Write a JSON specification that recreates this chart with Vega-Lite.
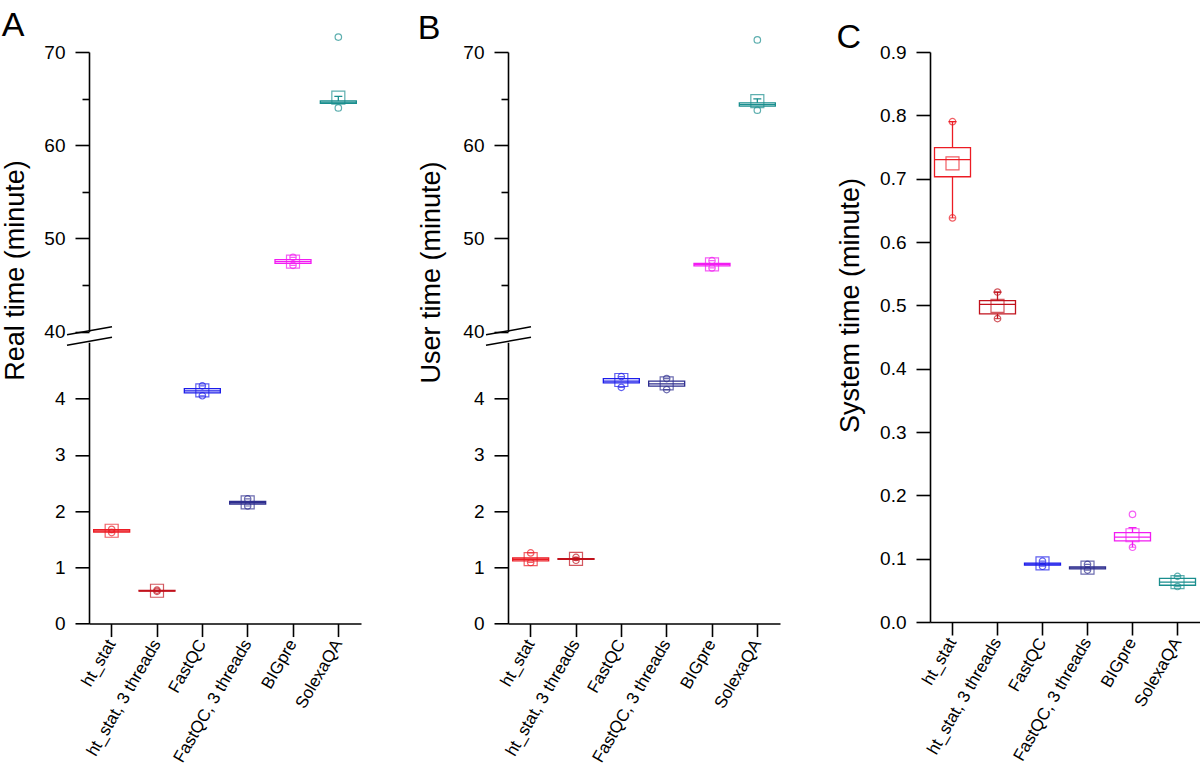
{
  "$schema": "https://vega.github.io/schema/vega-lite/v6.json",
  "padding": {"left": 1, "top": 9, "right": 0, "bottom": 0},
  "background": "white",
  "datasets": {
    "stats": [
      {"panel": "A", "tool": "ht_stat", "q1": 1.625, "med": 1.645, "q3": 1.67, "mean": 1.65, "wlo": 1.625, "whi": 1.67},
      {"panel": "A", "tool": "ht_stat, 3 threads", "q1": 0.576, "med": 0.583, "q3": 0.59, "mean": 0.583, "wlo": 0.576, "whi": 0.59},
      {"panel": "A", "tool": "FastQC", "q1": 4.1, "med": 4.135, "q3": 4.175, "mean": 4.145, "wlo": 4.1, "whi": 4.175},
      {"panel": "A", "tool": "FastQC, 3 threads", "q1": 2.125, "med": 2.15, "q3": 2.17, "mean": 2.155, "wlo": 2.125, "whi": 2.17},
      {"panel": "A", "tool": "BIGpre", "q1": 47.32, "med": 47.5, "q3": 47.72, "mean": 47.5, "wlo": 47.32, "whi": 47.72},
      {"panel": "A", "tool": "SolexaQA", "q1": 64.5, "med": 64.62, "q3": 64.75, "mean": 65.1, "wlo": 64.5, "whi": 65.23},
      {"panel": "B", "tool": "ht_stat", "q1": 1.115, "med": 1.14, "q3": 1.165, "mean": 1.147, "wlo": 1.115, "whi": 1.165},
      {"panel": "B", "tool": "ht_stat, 3 threads", "q1": 1.142, "med": 1.148, "q3": 1.155, "mean": 1.15, "wlo": 1.142, "whi": 1.155},
      {"panel": "B", "tool": "FastQC", "q1": 4.28, "med": 4.31, "q3": 4.355, "mean": 4.33, "wlo": 4.28, "whi": 4.355},
      {"panel": "B", "tool": "FastQC, 3 threads", "q1": 4.22, "med": 4.26, "q3": 4.31, "mean": 4.27, "wlo": 4.22, "whi": 4.31},
      {"panel": "B", "tool": "BIGpre", "q1": 47.05, "med": 47.2, "q3": 47.32, "mean": 47.2, "wlo": 47.05, "whi": 47.32},
      {"panel": "B", "tool": "SolexaQA", "q1": 64.2, "med": 64.35, "q3": 64.55, "mean": 64.73, "wlo": 64.2, "whi": 64.97},
      {"panel": "C", "tool": "ht_stat", "q1": 0.703, "med": 0.73, "q3": 0.749, "mean": 0.724, "wlo": 0.638, "whi": 0.79},
      {"panel": "C", "tool": "ht_stat, 3 threads", "q1": 0.4866, "med": 0.5016, "q3": 0.5074, "mean": 0.499, "wlo": 0.479, "whi": 0.521},
      {"panel": "C", "tool": "FastQC", "q1": 0.0898, "med": 0.0915, "q3": 0.093, "mean": 0.0926, "wlo": 0.0898, "whi": 0.093},
      {"panel": "C", "tool": "FastQC, 3 threads", "q1": 0.084, "med": 0.0855, "q3": 0.087, "mean": 0.086, "wlo": 0.084, "whi": 0.087},
      {"panel": "C", "tool": "BIGpre", "q1": 0.128, "med": 0.134, "q3": 0.141, "mean": 0.137, "wlo": 0.118, "whi": 0.149},
      {"panel": "C", "tool": "SolexaQA", "q1": 0.058, "med": 0.063, "q3": 0.069, "mean": 0.063, "wlo": 0.058, "whi": 0.069}
    ],
    "points": [
      {"panel": "A", "tool": "ht_stat", "value": 1.617, "kind": "x"},
      {"panel": "A", "tool": "ht_stat", "value": 1.675, "kind": "x"},
      {"panel": "A", "tool": "ht_stat, 3 threads", "value": 0.572, "kind": "x"},
      {"panel": "A", "tool": "ht_stat, 3 threads", "value": 0.594, "kind": "x"},
      {"panel": "A", "tool": "FastQC", "value": 4.05, "kind": "x"},
      {"panel": "A", "tool": "FastQC", "value": 4.225, "kind": "x"},
      {"panel": "A", "tool": "FastQC, 3 threads", "value": 2.09, "kind": "x"},
      {"panel": "A", "tool": "FastQC, 3 threads", "value": 2.215, "kind": "x"},
      {"panel": "A", "tool": "BIGpre", "value": 47.1, "kind": "x"},
      {"panel": "A", "tool": "BIGpre", "value": 47.96, "kind": "x"},
      {"panel": "A", "tool": "SolexaQA", "value": 64.0, "kind": "o"},
      {"panel": "A", "tool": "SolexaQA", "value": 71.6, "kind": "o"},
      {"panel": "B", "tool": "ht_stat", "value": 1.085, "kind": "x"},
      {"panel": "B", "tool": "ht_stat", "value": 1.255, "kind": "x"},
      {"panel": "B", "tool": "ht_stat, 3 threads", "value": 1.125, "kind": "x"},
      {"panel": "B", "tool": "ht_stat, 3 threads", "value": 1.175, "kind": "x"},
      {"panel": "B", "tool": "FastQC", "value": 4.2, "kind": "x"},
      {"panel": "B", "tool": "FastQC", "value": 4.39, "kind": "x"},
      {"panel": "B", "tool": "FastQC, 3 threads", "value": 4.16, "kind": "x"},
      {"panel": "B", "tool": "FastQC, 3 threads", "value": 4.355, "kind": "x"},
      {"panel": "B", "tool": "BIGpre", "value": 46.82, "kind": "x"},
      {"panel": "B", "tool": "BIGpre", "value": 47.6, "kind": "x"},
      {"panel": "B", "tool": "SolexaQA", "value": 63.75, "kind": "o"},
      {"panel": "B", "tool": "SolexaQA", "value": 71.3, "kind": "o"},
      {"panel": "C", "tool": "ht_stat", "value": 0.638, "kind": "x"},
      {"panel": "C", "tool": "ht_stat", "value": 0.79, "kind": "x"},
      {"panel": "C", "tool": "ht_stat, 3 threads", "value": 0.479, "kind": "x"},
      {"panel": "C", "tool": "ht_stat, 3 threads", "value": 0.521, "kind": "x"},
      {"panel": "C", "tool": "FastQC", "value": 0.088, "kind": "x"},
      {"panel": "C", "tool": "FastQC", "value": 0.096, "kind": "x"},
      {"panel": "C", "tool": "FastQC, 3 threads", "value": 0.082, "kind": "x"},
      {"panel": "C", "tool": "FastQC, 3 threads", "value": 0.091, "kind": "x"},
      {"panel": "C", "tool": "BIGpre", "value": 0.118, "kind": "x"},
      {"panel": "C", "tool": "BIGpre", "value": 0.17, "kind": "o"},
      {"panel": "C", "tool": "SolexaQA", "value": 0.056, "kind": "x"},
      {"panel": "C", "tool": "SolexaQA", "value": 0.072, "kind": "x"}
    ]
  },
  "hconcat": [
    {
      "vconcat": [
        {
          "title": {"text": "A", "anchor": "start", "frame": "bounds", "fontSize": 34, "fontWeight": "normal", "offset": -12},
          "width": 272, "height": 279.5,
          "resolve": {"scale": {"x": "independent"}},
          "layer": [
            {"data": {"name": "stats"}, "transform": [{"filter": "datum.panel === 'A' && datum.mean > 20"}],
             "mark": {"type": "bar", "width": 36, "filled": false, "strokeWidth": 1.3},
             "encoding": {
               "x": {"field": "tool", "type": "nominal", "scale": {"domain": ["ht_stat", "ht_stat, 3 threads", "FastQC", "FastQC, 3 threads", "BIGpre", "SolexaQA"], "paddingInner": 0, "paddingOuter": 0}, "axis": null},
               "y": {"field": "q1", "type": "quantitative", "scale": {"domain": [40, 70], "nice": false, "zero": false},
                     "axis": {"values": [40, 45, 50, 55, 60, 65, 70], "format": ".0f", "labelExpr": "datum.value % 10 === 0 ? datum.label : ''", "tickSize": {"condition": {"test": "datum.value % 10 === 0", "value": 14}, "value": 7}, "title": "Real time (minute)", "titleY": 218, "titlePadding": 14}},
               "y2": {"field": "q3"},
               "color": {"field": "tool", "type": "nominal", "scale": {"domain": ["ht_stat", "ht_stat, 3 threads", "FastQC", "FastQC, 3 threads", "BIGpre", "SolexaQA"], "range": ["#ec1c24", "#c1121c", "#1c1cea", "#2e2e8f", "#f21cf2", "#1a8e8e"]}, "legend": null}
             }},
            {"data": {"name": "stats"}, "transform": [{"filter": "datum.panel === 'A' && datum.mean > 20"}],
             "mark": {"type": "bar", "width": 36, "filled": false, "strokeWidth": 1.3},
             "encoding": {"x": {"field": "tool", "type": "nominal", "scale": {"domain": ["ht_stat", "ht_stat, 3 threads", "FastQC", "FastQC, 3 threads", "BIGpre", "SolexaQA"], "paddingInner": 0, "paddingOuter": 0}, "axis": null},
               "y": {"field": "med", "type": "quantitative"}, "y2": {"field": "med"}, "color": {"field": "tool", "type": "nominal", "legend": null}}},
            {"data": {"name": "stats"}, "transform": [{"filter": "datum.panel === 'A' && datum.mean > 20 && datum.whi > datum.q3"}],
             "mark": {"type": "rule", "strokeWidth": 1.3},
             "encoding": {"x": {"field": "tool", "type": "nominal", "scale": {"domain": ["ht_stat", "ht_stat, 3 threads", "FastQC", "FastQC, 3 threads", "BIGpre", "SolexaQA"], "paddingInner": 0, "paddingOuter": 0}, "axis": null},
               "y": {"field": "q3", "type": "quantitative"}, "y2": {"field": "whi"}, "color": {"field": "tool", "type": "nominal", "legend": null}}},
            {"data": {"name": "stats"}, "transform": [{"filter": "datum.panel === 'A' && datum.mean > 20 && datum.whi > datum.q3"}],
             "mark": {"type": "bar", "width": 8, "filled": false, "strokeWidth": 1.3},
             "encoding": {"x": {"field": "tool", "type": "nominal", "scale": {"domain": ["ht_stat", "ht_stat, 3 threads", "FastQC", "FastQC, 3 threads", "BIGpre", "SolexaQA"], "paddingInner": 0, "paddingOuter": 0}, "axis": null},
               "y": {"field": "whi", "type": "quantitative"}, "y2": {"field": "whi"}, "color": {"field": "tool", "type": "nominal", "legend": null}}},
            {"data": {"name": "stats"}, "transform": [{"filter": "datum.panel === 'A' && datum.mean > 20"}],
             "mark": {"type": "point", "shape": "square", "size": 169, "filled": false, "strokeWidth": 1.2},
             "encoding": {"x": {"field": "tool", "type": "nominal", "scale": {"domain": ["ht_stat", "ht_stat, 3 threads", "FastQC", "FastQC, 3 threads", "BIGpre", "SolexaQA"], "paddingInner": 0, "paddingOuter": 0}, "axis": null},
               "y": {"field": "mean", "type": "quantitative"}, "color": {"field": "tool", "type": "nominal", "legend": null}}},
            {"data": {"name": "points"}, "transform": [{"filter": "datum.panel === 'A' && datum.value > 20"}],
             "mark": {"type": "point", "size": 42, "filled": false, "strokeWidth": 1.2},
             "encoding": {"x": {"field": "tool", "type": "nominal", "scale": {"domain": ["ht_stat", "ht_stat, 3 threads", "FastQC", "FastQC, 3 threads", "BIGpre", "SolexaQA"], "paddingInner": 0, "paddingOuter": 0}, "axis": null},
               "y": {"field": "value", "type": "quantitative"},
               "shape": {"field": "kind", "type": "nominal", "scale": {"domain": ["x", "o"], "range": ["M-1,0A1,1 0 1,1 1,0A1,1 0 1,1 -1,0ZM-1,0L1,0", "circle"]}, "legend": null},
               "color": {"field": "tool", "type": "nominal", "legend": null}}},
            {"data": {"values": [{}]},
             "mark": {"type": "rule", "strokeWidth": 1.5, "color": "black"},
             "encoding": {"x": {"datum": -0.485, "type": "quantitative", "scale": {"domain": [0, 6]}, "axis": null}, "x2": {"datum": 0.507},
               "y": {"datum": 39.65, "type": "quantitative"}, "y2": {"datum": 40.5}}}
          ]
        },
        {
          "width": 272, "height": 281.25,
          "resolve": {"scale": {"x": "independent"}},
          "layer": [
            {"data": {"name": "stats"}, "transform": [{"filter": "datum.panel === 'A' && datum.mean < 20"}],
             "mark": {"type": "bar", "width": 36, "filled": false, "strokeWidth": 1.3},
             "encoding": {
               "x": {"field": "tool", "type": "nominal", "scale": {"domain": ["ht_stat", "ht_stat, 3 threads", "FastQC", "FastQC, 3 threads", "BIGpre", "SolexaQA"], "paddingInner": 0, "paddingOuter": 0},
                     "axis": {"title": null, "labelAngle": -60, "labelFontSize": 17, "tickSize": 13, "labelPadding": 4}},
               "y": {"field": "q1", "type": "quantitative", "scale": {"domain": [0, 5], "nice": false, "zero": false},
                     "axis": {"values": [0, 0.5, 1, 1.5, 2, 2.5, 3, 3.5, 4, 4.5], "format": ".0f", "labelExpr": "datum.value % 1 === 0 ? datum.label : ''", "tickSize": {"condition": {"test": "datum.value % 1 === 0", "value": 14}, "value": 7}, "title": null}},
               "y2": {"field": "q3"},
               "color": {"field": "tool", "type": "nominal", "legend": null}
             }},
            {"data": {"name": "stats"}, "transform": [{"filter": "datum.panel === 'A' && datum.mean < 20"}],
             "mark": {"type": "bar", "width": 36, "filled": false, "strokeWidth": 1.3},
             "encoding": {"x": {"field": "tool", "type": "nominal", "scale": {"domain": ["ht_stat", "ht_stat, 3 threads", "FastQC", "FastQC, 3 threads", "BIGpre", "SolexaQA"], "paddingInner": 0, "paddingOuter": 0}, "axis": null},
               "y": {"field": "med", "type": "quantitative"}, "y2": {"field": "med"}, "color": {"field": "tool", "type": "nominal", "legend": null}}},
            {"data": {"name": "stats"}, "transform": [{"filter": "datum.panel === 'A' && datum.mean < 20"}],
             "mark": {"type": "point", "shape": "square", "size": 169, "filled": false, "strokeWidth": 1.2},
             "encoding": {"x": {"field": "tool", "type": "nominal", "scale": {"domain": ["ht_stat", "ht_stat, 3 threads", "FastQC", "FastQC, 3 threads", "BIGpre", "SolexaQA"], "paddingInner": 0, "paddingOuter": 0}, "axis": null},
               "y": {"field": "mean", "type": "quantitative"}, "color": {"field": "tool", "type": "nominal", "legend": null}}},
            {"data": {"name": "points"}, "transform": [{"filter": "datum.panel === 'A' && datum.value < 20"}],
             "mark": {"type": "point", "size": 42, "filled": false, "strokeWidth": 1.2},
             "encoding": {"x": {"field": "tool", "type": "nominal", "scale": {"domain": ["ht_stat", "ht_stat, 3 threads", "FastQC", "FastQC, 3 threads", "BIGpre", "SolexaQA"], "paddingInner": 0, "paddingOuter": 0}, "axis": null},
               "y": {"field": "value", "type": "quantitative"},
               "shape": {"field": "kind", "type": "nominal", "scale": {"domain": ["x", "o"], "range": ["M-1,0A1,1 0 1,1 1,0A1,1 0 1,1 -1,0ZM-1,0L1,0", "circle"]}, "legend": null},
               "color": {"field": "tool", "type": "nominal", "legend": null}}},
            {"data": {"values": [{}]},
             "mark": {"type": "rule", "strokeWidth": 1.5, "color": "black"},
             "encoding": {"x": {"datum": -0.485, "type": "quantitative", "scale": {"domain": [0, 6]}, "axis": null}, "x2": {"datum": 0.507},
               "y": {"datum": 4.948, "type": "quantitative"}, "y2": {"datum": 5.09}}}
          ]
        }
      ],
      "spacing": 10.3,
      "bounds": "flush"
    },
    {
      "vconcat": [
        {
          "title": {"text": "B", "anchor": "start", "frame": "bounds", "fontSize": 34, "fontWeight": "normal", "offset": -12},
          "width": 272, "height": 279.5,
          "resolve": {"scale": {"x": "independent"}},
          "layer": [
            {"data": {"name": "stats"}, "transform": [{"filter": "datum.panel === 'B' && datum.mean > 20"}],
             "mark": {"type": "bar", "width": 36, "filled": false, "strokeWidth": 1.3},
             "encoding": {
               "x": {"field": "tool", "type": "nominal", "scale": {"domain": ["ht_stat", "ht_stat, 3 threads", "FastQC", "FastQC, 3 threads", "BIGpre", "SolexaQA"], "paddingInner": 0, "paddingOuter": 0}, "axis": null},
               "y": {"field": "q1", "type": "quantitative", "scale": {"domain": [40, 70], "nice": false, "zero": false},
                     "axis": {"values": [40, 45, 50, 55, 60, 65, 70], "format": ".0f", "labelExpr": "datum.value % 10 === 0 ? datum.label : ''", "tickSize": {"condition": {"test": "datum.value % 10 === 0", "value": 14}, "value": 7}, "title": "User time (minute)", "titleY": 220, "titlePadding": 17}},
               "y2": {"field": "q3"},
               "color": {"field": "tool", "type": "nominal", "legend": null}
             }},
            {"data": {"name": "stats"}, "transform": [{"filter": "datum.panel === 'B' && datum.mean > 20"}],
             "mark": {"type": "bar", "width": 36, "filled": false, "strokeWidth": 1.3},
             "encoding": {"x": {"field": "tool", "type": "nominal", "scale": {"domain": ["ht_stat", "ht_stat, 3 threads", "FastQC", "FastQC, 3 threads", "BIGpre", "SolexaQA"], "paddingInner": 0, "paddingOuter": 0}, "axis": null},
               "y": {"field": "med", "type": "quantitative"}, "y2": {"field": "med"}, "color": {"field": "tool", "type": "nominal", "legend": null}}},
            {"data": {"name": "stats"}, "transform": [{"filter": "datum.panel === 'B' && datum.mean > 20 && datum.whi > datum.q3"}],
             "mark": {"type": "rule", "strokeWidth": 1.3},
             "encoding": {"x": {"field": "tool", "type": "nominal", "scale": {"domain": ["ht_stat", "ht_stat, 3 threads", "FastQC", "FastQC, 3 threads", "BIGpre", "SolexaQA"], "paddingInner": 0, "paddingOuter": 0}, "axis": null},
               "y": {"field": "q3", "type": "quantitative"}, "y2": {"field": "whi"}, "color": {"field": "tool", "type": "nominal", "legend": null}}},
            {"data": {"name": "stats"}, "transform": [{"filter": "datum.panel === 'B' && datum.mean > 20 && datum.whi > datum.q3"}],
             "mark": {"type": "bar", "width": 8, "filled": false, "strokeWidth": 1.3},
             "encoding": {"x": {"field": "tool", "type": "nominal", "scale": {"domain": ["ht_stat", "ht_stat, 3 threads", "FastQC", "FastQC, 3 threads", "BIGpre", "SolexaQA"], "paddingInner": 0, "paddingOuter": 0}, "axis": null},
               "y": {"field": "whi", "type": "quantitative"}, "y2": {"field": "whi"}, "color": {"field": "tool", "type": "nominal", "legend": null}}},
            {"data": {"name": "stats"}, "transform": [{"filter": "datum.panel === 'B' && datum.mean > 20"}],
             "mark": {"type": "point", "shape": "square", "size": 169, "filled": false, "strokeWidth": 1.2},
             "encoding": {"x": {"field": "tool", "type": "nominal", "scale": {"domain": ["ht_stat", "ht_stat, 3 threads", "FastQC", "FastQC, 3 threads", "BIGpre", "SolexaQA"], "paddingInner": 0, "paddingOuter": 0}, "axis": null},
               "y": {"field": "mean", "type": "quantitative"}, "color": {"field": "tool", "type": "nominal", "legend": null}}},
            {"data": {"name": "points"}, "transform": [{"filter": "datum.panel === 'B' && datum.value > 20"}],
             "mark": {"type": "point", "size": 42, "filled": false, "strokeWidth": 1.2},
             "encoding": {"x": {"field": "tool", "type": "nominal", "scale": {"domain": ["ht_stat", "ht_stat, 3 threads", "FastQC", "FastQC, 3 threads", "BIGpre", "SolexaQA"], "paddingInner": 0, "paddingOuter": 0}, "axis": null},
               "y": {"field": "value", "type": "quantitative"},
               "shape": {"field": "kind", "type": "nominal", "scale": {"domain": ["x", "o"], "range": ["M-1,0A1,1 0 1,1 1,0A1,1 0 1,1 -1,0ZM-1,0L1,0", "circle"]}, "legend": null},
               "color": {"field": "tool", "type": "nominal", "legend": null}}},
            {"data": {"values": [{}]},
             "mark": {"type": "rule", "strokeWidth": 1.5, "color": "black"},
             "encoding": {"x": {"datum": -0.485, "type": "quantitative", "scale": {"domain": [0, 6]}, "axis": null}, "x2": {"datum": 0.507},
               "y": {"datum": 39.65, "type": "quantitative"}, "y2": {"datum": 40.5}}}
          ]
        },
        {
          "width": 272, "height": 281.25,
          "resolve": {"scale": {"x": "independent"}},
          "layer": [
            {"data": {"name": "stats"}, "transform": [{"filter": "datum.panel === 'B' && datum.mean < 20"}],
             "mark": {"type": "bar", "width": 36, "filled": false, "strokeWidth": 1.3},
             "encoding": {
               "x": {"field": "tool", "type": "nominal", "scale": {"domain": ["ht_stat", "ht_stat, 3 threads", "FastQC", "FastQC, 3 threads", "BIGpre", "SolexaQA"], "paddingInner": 0, "paddingOuter": 0},
                     "axis": {"title": null, "labelAngle": -60, "labelFontSize": 17, "tickSize": 13, "labelPadding": 4}},
               "y": {"field": "q1", "type": "quantitative", "scale": {"domain": [0, 5], "nice": false, "zero": false},
                     "axis": {"values": [0, 0.5, 1, 1.5, 2, 2.5, 3, 3.5, 4, 4.5], "format": ".0f", "labelExpr": "datum.value % 1 === 0 ? datum.label : ''", "tickSize": {"condition": {"test": "datum.value % 1 === 0", "value": 14}, "value": 7}, "title": null}},
               "y2": {"field": "q3"},
               "color": {"field": "tool", "type": "nominal", "legend": null}
             }},
            {"data": {"name": "stats"}, "transform": [{"filter": "datum.panel === 'B' && datum.mean < 20"}],
             "mark": {"type": "bar", "width": 36, "filled": false, "strokeWidth": 1.3},
             "encoding": {"x": {"field": "tool", "type": "nominal", "scale": {"domain": ["ht_stat", "ht_stat, 3 threads", "FastQC", "FastQC, 3 threads", "BIGpre", "SolexaQA"], "paddingInner": 0, "paddingOuter": 0}, "axis": null},
               "y": {"field": "med", "type": "quantitative"}, "y2": {"field": "med"}, "color": {"field": "tool", "type": "nominal", "legend": null}}},
            {"data": {"name": "stats"}, "transform": [{"filter": "datum.panel === 'B' && datum.mean < 20"}],
             "mark": {"type": "point", "shape": "square", "size": 169, "filled": false, "strokeWidth": 1.2},
             "encoding": {"x": {"field": "tool", "type": "nominal", "scale": {"domain": ["ht_stat", "ht_stat, 3 threads", "FastQC", "FastQC, 3 threads", "BIGpre", "SolexaQA"], "paddingInner": 0, "paddingOuter": 0}, "axis": null},
               "y": {"field": "mean", "type": "quantitative"}, "color": {"field": "tool", "type": "nominal", "legend": null}}},
            {"data": {"name": "points"}, "transform": [{"filter": "datum.panel === 'B' && datum.value < 20"}],
             "mark": {"type": "point", "size": 42, "filled": false, "strokeWidth": 1.2},
             "encoding": {"x": {"field": "tool", "type": "nominal", "scale": {"domain": ["ht_stat", "ht_stat, 3 threads", "FastQC", "FastQC, 3 threads", "BIGpre", "SolexaQA"], "paddingInner": 0, "paddingOuter": 0}, "axis": null},
               "y": {"field": "value", "type": "quantitative"},
               "shape": {"field": "kind", "type": "nominal", "scale": {"domain": ["x", "o"], "range": ["M-1,0A1,1 0 1,1 1,0A1,1 0 1,1 -1,0ZM-1,0L1,0", "circle"]}, "legend": null},
               "color": {"field": "tool", "type": "nominal", "legend": null}}},
            {"data": {"values": [{}]},
             "mark": {"type": "rule", "strokeWidth": 1.5, "color": "black"},
             "encoding": {"x": {"datum": -0.485, "type": "quantitative", "scale": {"domain": [0, 6]}, "axis": null}, "x2": {"datum": 0.507},
               "y": {"datum": 4.948, "type": "quantitative"}, "y2": {"datum": 5.09}}}
          ]
        }
      ],
      "spacing": 10.3,
      "bounds": "flush"
    },
    {
      "title": {"text": "C", "anchor": "start", "frame": "bounds", "fontSize": 34, "fontWeight": "normal", "offset": -12},
      "width": 270, "height": 570,
      "layer": [
        {"data": {"name": "stats"}, "transform": [{"filter": "datum.panel === 'C'"}],
         "mark": {"type": "bar", "width": 36, "filled": false, "strokeWidth": 1.3},
         "encoding": {
           "x": {"field": "tool", "type": "nominal", "scale": {"domain": ["ht_stat", "ht_stat, 3 threads", "FastQC", "FastQC, 3 threads", "BIGpre", "SolexaQA"], "paddingInner": 0, "paddingOuter": 0},
                 "axis": {"title": null, "labelAngle": -60, "labelFontSize": 17, "tickSize": 13, "labelPadding": 4}},
           "y": {"field": "q1", "type": "quantitative", "scale": {"domain": [0, 0.9], "nice": false, "zero": false},
                 "axis": {"values": [0, 0.05, 0.1, 0.15, 0.2, 0.25, 0.3, 0.35, 0.4, 0.45, 0.5, 0.55, 0.6, 0.65, 0.7, 0.75, 0.8, 0.85, 0.9], "format": ".1f", "labelExpr": "round(datum.value * 100) % 10 === 0 ? datum.label : ''", "tickSize": {"condition": {"test": "round(datum.value * 100) % 10 === 0", "value": 14}, "value": 7}, "title": "System time (minute)", "titleY": 253, "titlePadding": 15}},
           "y2": {"field": "q3"},
           "color": {"field": "tool", "type": "nominal", "legend": null}
         }},
        {"data": {"name": "stats"}, "transform": [{"filter": "datum.panel === 'C'"}],
         "mark": {"type": "bar", "width": 36, "filled": false, "strokeWidth": 1.3},
         "encoding": {"x": {"field": "tool", "type": "nominal"}, "y": {"field": "med", "type": "quantitative"}, "y2": {"field": "med"}, "color": {"field": "tool", "type": "nominal", "legend": null}}},
        {"data": {"name": "stats"}, "transform": [{"filter": "datum.panel === 'C' && datum.whi > datum.q3"}],
         "mark": {"type": "rule", "strokeWidth": 1.3},
         "encoding": {"x": {"field": "tool", "type": "nominal"}, "y": {"field": "q3", "type": "quantitative"}, "y2": {"field": "whi"}, "color": {"field": "tool", "type": "nominal", "legend": null}}},
        {"data": {"name": "stats"}, "transform": [{"filter": "datum.panel === 'C' && datum.wlo < datum.q1"}],
         "mark": {"type": "rule", "strokeWidth": 1.3},
         "encoding": {"x": {"field": "tool", "type": "nominal"}, "y": {"field": "wlo", "type": "quantitative"}, "y2": {"field": "q1"}, "color": {"field": "tool", "type": "nominal", "legend": null}}},
        {"data": {"name": "stats"}, "transform": [{"filter": "datum.panel === 'C' && datum.whi > datum.q3"}],
         "mark": {"type": "bar", "width": 8, "filled": false, "strokeWidth": 1.3},
         "encoding": {"x": {"field": "tool", "type": "nominal"}, "y": {"field": "whi", "type": "quantitative"}, "y2": {"field": "whi"}, "color": {"field": "tool", "type": "nominal", "legend": null}}},
        {"data": {"name": "stats"}, "transform": [{"filter": "datum.panel === 'C'"}],
         "mark": {"type": "point", "shape": "square", "size": 169, "filled": false, "strokeWidth": 1.2},
         "encoding": {"x": {"field": "tool", "type": "nominal"}, "y": {"field": "mean", "type": "quantitative"}, "color": {"field": "tool", "type": "nominal", "legend": null}}},
        {"data": {"name": "points"}, "transform": [{"filter": "datum.panel === 'C'"}],
         "mark": {"type": "point", "size": 42, "filled": false, "strokeWidth": 1.2},
         "encoding": {"x": {"field": "tool", "type": "nominal"},
           "y": {"field": "value", "type": "quantitative"},
           "shape": {"field": "kind", "type": "nominal", "scale": {"domain": ["x", "o"], "range": ["M-1,0A1,1 0 1,1 1,0A1,1 0 1,1 -1,0ZM-1,0L1,0", "circle"]}, "legend": null},
           "color": {"field": "tool", "type": "nominal", "legend": null}}}
      ]
    }
  ],
  "spacing": 56,
  "config": {
    "view": {"stroke": null},
    "font": "Liberation Sans",
    "axis": {"domainColor": "black", "domainWidth": 1.6, "tickColor": "black", "tickWidth": 1.6, "labelFontSize": 19, "labelColor": "black", "labelPadding": 10, "titleFontSize": 27, "titleFontWeight": "normal", "titleColor": "black", "grid": false, "labelFont": "Liberation Sans", "titleFont": "Liberation Sans", "labelOverlap": false, "labelBound": false, "labelFlush": false},
    "title": {"color": "black", "font": "Liberation Sans"}
  }
}
